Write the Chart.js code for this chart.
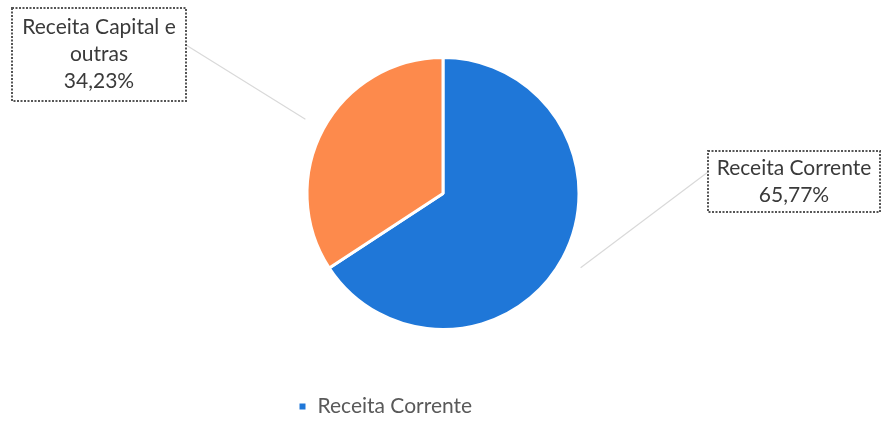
<!DOCTYPE html>
<html>
<head>
<meta charset="utf-8">
<script src="https://cdn.jsdelivr.net/npm/chart.js@4.4.1/dist/chart.umd.min.js"></script>
<style>
  html, body { margin: 0; padding: 0; background: #fff; }
  #wrap { width: 882px; height: 421px; }
</style>
</head>
<body>
<div id="wrap"><canvas id="grafica" width="882" height="421"></canvas></div>
<script>
// Dados
const categorias = ['Receita Corrente', 'Receita Capital e outras'];
const valores = [65.77, 34.23];
const rotulos = [['Receita Corrente'], ['Receita Capital e', 'outras']];
const cores = ['#1f77d8', '#fd8a4c'];

const fonte = 'Lato, "Open Sans", sans-serif';

// caixas dos rótulos (layout)
const caixas = [
  { x: 708, y: 151, w: 172, h: 61, fimX: 708, fimY: 172 },
  { x: 12, y: 8, w: 174, h: 93, fimX: 186, fimY: 45 }
];

function pct(v) {
  const total = valores.reduce((a, b) => a + b, 0);
  return (v / total * 100).toFixed(2).replace('.', ',') + '%';
}

// rótulos com linha de chamada
const rotulosPlugin = {
  id: 'rotulos',
  afterDraw(chart) {
    const ctx = chart.ctx;
    const meta = chart.getDatasetMeta(0);
    meta.data.forEach((arc, i) => {
      const b = caixas[i];
      const meio = (arc.startAngle + arc.endAngle) / 2;
      const r = arc.outerRadius * 1.15;
      const x0 = arc.x + Math.cos(meio) * r;
      const y0 = arc.y + Math.sin(meio) * r;

      ctx.save();
      ctx.strokeStyle = '#d9d9d9';
      ctx.lineWidth = 1.2;
      ctx.beginPath();
      ctx.moveTo(x0, y0);
      ctx.lineTo(b.fimX, b.fimY);
      ctx.stroke();

      ctx.fillStyle = '#fff';
      ctx.fillRect(b.x, b.y, b.w, b.h);
      ctx.strokeStyle = '#555';
      ctx.lineWidth = 2;
      ctx.setLineDash([2, 1.5]);
      ctx.strokeRect(b.x, b.y, b.w, b.h);
      ctx.setLineDash([]);

      const linhas = rotulos[i].concat([pct(valores[i])]);
      ctx.fillStyle = '#3a3a3a';
      ctx.font = '21px ' + fonte;
      ctx.textAlign = 'center';
      ctx.textBaseline = 'middle';
      const lh = 27;
      const cy = b.y + b.h / 2 - (linhas.length - 1) * lh / 2;
      linhas.forEach((t, k) => ctx.fillText(t, b.x + b.w / 2, cy + k * lh));
      ctx.restore();
    });
  }
};

// deslocar a legenda para a posição original
const legendaPlugin = {
  id: 'legendaPos',
  afterLayout(chart) {
    const lg = chart.legend;
    if (!lg || !lg.lineWidths) return;
    const pad = lg.options.labels.padding;
    const inicio = (lg.left + pad + lg.right - lg.lineWidths[0]) / 2;
    const desloc = 298 - inicio;
    lg.left += desloc;
    lg.right += desloc;
    lg.top += 6;
    lg.bottom += 6;
  }
};

function setupChart() {
  const ctx = document.getElementById('grafica').getContext('2d');
  new Chart(ctx, {
    type: 'pie',
    data: {
      labels: categorias,
      datasets: [{
        data: valores,
        backgroundColor: cores,
        borderColor: '#ffffff',
        borderWidth: 3,
        radius: 136
      }]
    },
    options: {
      responsive: false,
      animation: false,
      layout: { padding: { top: -6, left: 4, right: 0, bottom: 0 } },
      plugins: {
        tooltip: { enabled: false },
        legend: {
          position: 'bottom',
          labels: {
            boxWidth: 9,
            boxHeight: 9,
            padding: 3,
            color: '#595959',
            font: { family: fonte, size: 21 },
            filter: (item) => item.index === 0
          }
        }
      }
    },
    plugins: [rotulosPlugin, legendaPlugin]
  });
}

document.addEventListener('DOMContentLoaded', setupChart);
</script>
</body>
</html>
